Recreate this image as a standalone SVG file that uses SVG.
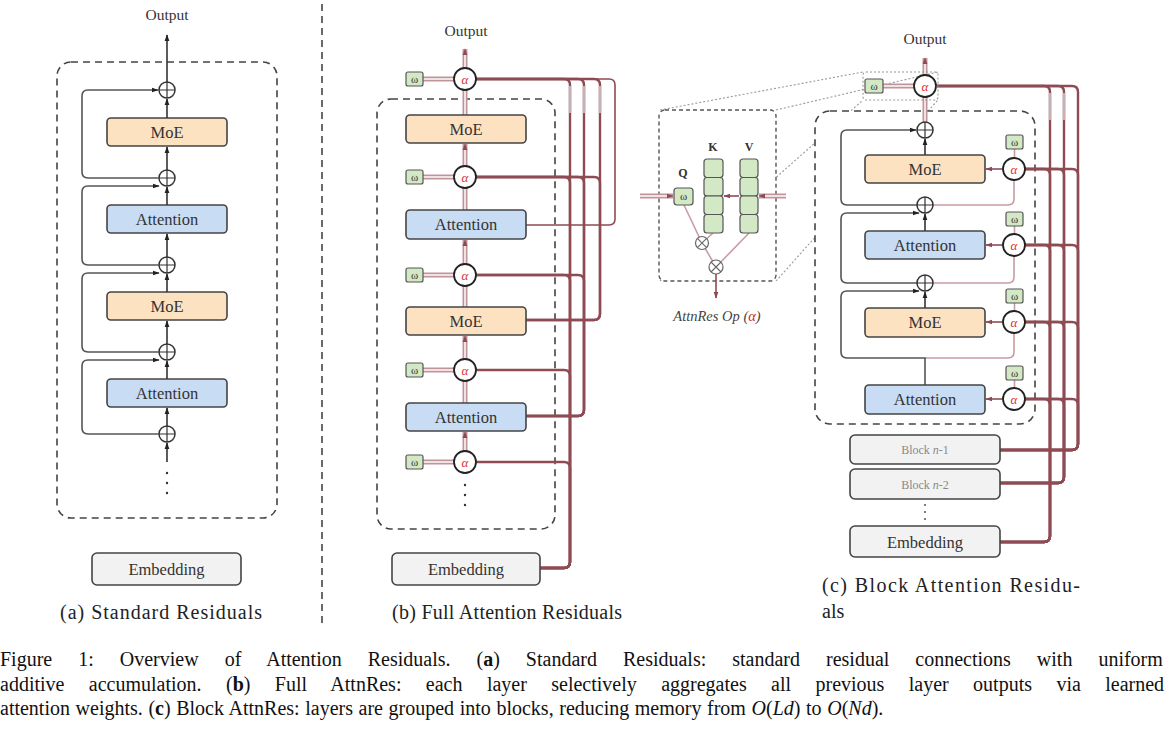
<svg xmlns="http://www.w3.org/2000/svg" width="1170" height="742" viewBox="0 0 1170 742">
<defs>
<marker id="ah" viewBox="0 0 10 10" refX="9" refY="5" markerWidth="7" markerHeight="7" markerUnits="userSpaceOnUse" orient="auto"><path d="M0,1.5 L10,5 L0,8.5 z" fill="#222"/></marker>
<marker id="am" viewBox="0 0 10 10" refX="9" refY="5" markerWidth="7" markerHeight="7" markerUnits="userSpaceOnUse" orient="auto"><path d="M0,1.5 L10,5 L0,8.5 z" fill="#8b4a52"/></marker>
</defs>
<style>
text{font-family:"Liberation Serif","Times New Roman",serif;}
.lbl{font-size:16.5px;fill:#333;text-anchor:middle;}
.out{font-size:15.5px;fill:#333;text-anchor:middle;}
.moe{fill:#fde2c2;stroke:#444;stroke-width:1.6;}
.att{fill:#c8dcf4;stroke:#444;stroke-width:1.6;}
.emb{fill:#f2f2f2;stroke:#444;stroke-width:1.6;}
.dash{fill:none;stroke:#444;stroke-width:1.6;stroke-dasharray:7 5;}
.dashw{fill:#fff;stroke:#444;stroke-width:1.6;stroke-dasharray:7 5;}
.plus{fill:#fff;stroke:#333;stroke-width:1.5;}
.cr{fill:none;stroke:#333;stroke-width:1.2;}
.blk{fill:none;stroke:#333;stroke-width:1.6;}
.loop{fill:none;stroke:#555;stroke-width:1.6;}
.alpha{fill:#fff;stroke:#222;stroke-width:1.8;}
.at{font-size:13px;fill:#e03030;text-anchor:middle;font-style:italic;}
.w{fill:#d3e8c5;stroke:#555;stroke-width:1.2;}
.wt{font-size:11px;fill:#333;text-anchor:middle;}
.dblo{fill:none;stroke:#c0949a;stroke-width:5;}
.dbli{fill:none;stroke:#efe2e3;stroke-width:2;}
.mar{fill:none;stroke:#8e4b54;stroke-width:2.4;}
.marl{fill:none;stroke:#8e4b54;stroke-width:1.6;}
.pale{fill:none;stroke:#c4b0b3;stroke-width:2.4;}
.pk{fill:none;stroke:#c99ca2;stroke-width:1.6;}
.dot{fill:none;stroke:#999;stroke-width:1.1;stroke-dasharray:2 2;}
.cap{font-size:20px;fill:#111;}
.sub{font-size:20px;fill:#222;}
.kv{font-size:12px;font-weight:bold;fill:#333;text-anchor:middle;}
.blkt{font-size:12px;fill:#888;text-anchor:middle;}
</style>

<!-- ============ Panel (a) ============ -->
<g id="a-frame"><rect class="dash" x="57" y="62" width="220" height="456" rx="14"/></g>
<g id="a-output"><text class="out" x="167" y="20">Output</text></g>
<g id="a-moe1"><rect class="moe" x="107" y="118" width="120" height="28" rx="4"/><text class="lbl" x="167" y="137.5">MoE</text></g>
<g id="a-attn1"><rect class="att" x="107" y="205" width="120" height="28" rx="4"/><text class="lbl" x="167" y="224.5">Attention</text></g>
<g id="a-moe2"><rect class="moe" x="107" y="292" width="120" height="28" rx="4"/><text class="lbl" x="167" y="311.5">MoE</text></g>
<g id="a-attn2"><rect class="att" x="107" y="379" width="120" height="28" rx="4"/><text class="lbl" x="167" y="398.5">Attention</text></g>
<g id="a-embedding"><rect class="emb" x="92" y="553" width="149" height="32" rx="5"/><text class="lbl" x="166.5" y="575">Embedding</text></g>
<g id="a-plus1" transform="translate(167,90)"><circle class="plus" r="8"/><path class="cr" d="M-8,0H8M0,-8V8"/></g>
<g id="a-plus2" transform="translate(167,178)"><circle class="plus" r="8"/><path class="cr" d="M-8,0H8M0,-8V8"/></g>
<g id="a-plus3" transform="translate(167,265)"><circle class="plus" r="8"/><path class="cr" d="M-8,0H8M0,-8V8"/></g>
<g id="a-plus4" transform="translate(167,352)"><circle class="plus" r="8"/><path class="cr" d="M-8,0H8M0,-8V8"/></g>
<g id="a-plus5" transform="translate(167,434)"><circle class="plus" r="8"/><path class="cr" d="M-8,0H8M0,-8V8"/></g>
<g id="a-dots" fill="#333"><circle cx="167" cy="473" r="1.2"/><circle cx="167" cy="483" r="1.2"/><circle cx="167" cy="493" r="1.2"/></g>
<g id="a-label"><text class="sub" x="60" y="619" textLength="202" lengthAdjust="spacing">(a) Standard Residuals</text></g>

<g id="a-connectors">
<path class="blk" d="M167,462V443" marker-end="url(#ah)"/>
<path class="blk" d="M167,426V408" marker-end="url(#ah)"/>
<path class="blk" d="M167,379V361" marker-end="url(#ah)"/>
<path class="blk" d="M167,344V321" marker-end="url(#ah)"/>
<path class="blk" d="M167,292V274" marker-end="url(#ah)"/>
<path class="blk" d="M167,257V234" marker-end="url(#ah)"/>
<path class="blk" d="M167,205V187" marker-end="url(#ah)"/>
<path class="blk" d="M167,170V147" marker-end="url(#ah)"/>
<path class="blk" d="M167,118V99" marker-end="url(#ah)"/>
<path class="blk" d="M167,82V35" marker-end="url(#ah)"/>
<path class="loop" d="M159,178H88Q82,178 82,172V96Q82,90 88,90H158" marker-end="url(#ah)"/>
<path class="loop" d="M159,265H88Q82,265 82,259V192Q82,186 88,186H159" marker-end="url(#ah)"/>
<path class="loop" d="M159,352H88Q82,352 82,346V279Q82,273 88,273H159" marker-end="url(#ah)"/>
<path class="loop" d="M159,434H88Q82,434 82,428V366Q82,360 88,360H159" marker-end="url(#ah)"/>
</g>

<g id="separator"><line class="dash" x1="322" y1="4" x2="322" y2="628"/></g>

<!-- ============ Panel (b) ============ -->
<g id="b-frame"><rect class="dash" x="377" y="99" width="178" height="430" rx="14"/></g>
<g id="b-output"><text class="out" x="466" y="36">Output</text></g>

<g id="b-connectors">
<path class="mar" d="M540,568H564Q570,568 570,562V85Q570,79 564,79H476"/>
<path class="mar" d="M540,568H564Q570,568 570,562V183Q570,177 564,177H476"/>
<path class="mar" d="M540,568H564Q570,568 570,562V281Q570,275 564,275H476"/>
<path class="mar" d="M540,568H564Q570,568 570,562V376Q570,370 564,370H476"/>
<path class="mar" d="M540,568H564Q570,568 570,562V468Q570,462 564,462H476"/>
<path class="mar" d="M526,416H578Q584,416 584,410V85Q584,79 578,79H476"/>
<path class="mar" d="M526,416H578Q584,416 584,410V183Q584,177 578,177H476"/>
<path class="mar" d="M526,416H578Q584,416 584,410V281Q584,275 578,275H476"/>
<path class="mar" d="M526,320H594Q600,320 600,314V85Q600,79 594,79H476"/>
<path class="mar" d="M526,320H594Q600,320 600,314V183Q600,177 594,177H476"/>
<path class="marl" d="M526,225H609Q615,225 615,219V85Q615,79 609,79H476" stroke="#9a6168"/>
<path class="pale" d="M570,86V113M584,86V113M600,86V113"/>
<path class="dblo" d="M465,451V432" marker-end="url(#am)"/><path class="dbli" d="M465,451V438"/>
<path class="dblo" d="M465,403V381"/><path class="dbli" d="M465,403V381"/>
<path class="dblo" d="M465,359V336" marker-end="url(#am)"/><path class="dbli" d="M465,359V342"/>
<path class="dblo" d="M465,307V286"/><path class="dbli" d="M465,307V286"/>
<path class="dblo" d="M465,264V240" marker-end="url(#am)"/><path class="dbli" d="M465,264V246"/>
<path class="dblo" d="M465,210V188"/><path class="dbli" d="M465,210V188"/>
<path class="dblo" d="M465,166V144" marker-end="url(#am)"/><path class="dbli" d="M465,166V150"/>
<path class="dblo" d="M465,115V90"/><path class="dbli" d="M465,115V90"/>
<path class="dblo" d="M465,68V49" marker-end="url(#am)"/><path class="dbli" d="M465,68V55"/>
<path class="dblo" d="M423,79H454"/><path class="dbli" d="M423,79H454"/>
<path class="dblo" d="M423,177H454"/><path class="dbli" d="M423,177H454"/>
<path class="dblo" d="M423,275H454"/><path class="dbli" d="M423,275H454"/>
<path class="dblo" d="M423,370H454"/><path class="dbli" d="M423,370H454"/>
<path class="dblo" d="M423,462H454"/><path class="dbli" d="M423,462H454"/>
</g>

<g id="b-moe1"><rect class="moe" x="406" y="115" width="120" height="28" rx="4"/><text class="lbl" x="466" y="134.5">MoE</text></g>
<g id="b-attn1"><rect class="att" x="406" y="210" width="120" height="29" rx="4"/><text class="lbl" x="466" y="230">Attention</text></g>
<g id="b-moe2"><rect class="moe" x="406" y="307" width="120" height="28" rx="4"/><text class="lbl" x="466" y="326.5">MoE</text></g>
<g id="b-attn2"><rect class="att" x="406" y="403" width="120" height="28" rx="4"/><text class="lbl" x="466" y="422.5">Attention</text></g>
<g id="b-embedding"><rect class="emb" x="392" y="553" width="148" height="32" rx="5"/><text class="lbl" x="466" y="575">Embedding</text></g>
<g id="b-alpha1"><circle class="alpha" cx="465" cy="79" r="11"/><text class="at" x="465" y="83.5">α</text></g>
<g id="b-alpha2"><circle class="alpha" cx="465" cy="177" r="11"/><text class="at" x="465" y="181.5">α</text></g>
<g id="b-alpha3"><circle class="alpha" cx="465" cy="275" r="11"/><text class="at" x="465" y="279.5">α</text></g>
<g id="b-alpha4"><circle class="alpha" cx="465" cy="370" r="11"/><text class="at" x="465" y="374.5">α</text></g>
<g id="b-alpha5"><circle class="alpha" cx="465" cy="462" r="11"/><text class="at" x="465" y="466.5">α</text></g>
<g id="b-w1"><rect class="w" x="406" y="72" width="17" height="14" rx="2"/><text class="wt" x="414.5" y="82.5">ω</text></g>
<g id="b-w2"><rect class="w" x="406" y="170" width="17" height="14" rx="2"/><text class="wt" x="414.5" y="180.5">ω</text></g>
<g id="b-w3"><rect class="w" x="406" y="268" width="17" height="14" rx="2"/><text class="wt" x="414.5" y="278.5">ω</text></g>
<g id="b-w4"><rect class="w" x="406" y="363" width="17" height="14" rx="2"/><text class="wt" x="414.5" y="373.5">ω</text></g>
<g id="b-w5"><rect class="w" x="406" y="455" width="17" height="14" rx="2"/><text class="wt" x="414.5" y="465.5">ω</text></g>
<g id="b-dots" fill="#333"><circle cx="465" cy="485" r="1.2"/><circle cx="465" cy="495" r="1.2"/><circle cx="465" cy="505" r="1.2"/></g>
<g id="b-label"><text class="sub" x="392" y="619" textLength="230" lengthAdjust="spacing">(b) Full Attention Residuals</text></g>

<!-- ============ zoom lines ============ -->
<g id="zoom-lines">
<path class="dot" d="M660,110L863,72"/>
<path class="dot" d="M776,110L938,72"/>
<path class="dot" d="M660,281L863,100"/>
<path class="dot" d="M776,281L938,100"/>
</g>

<!-- ============ Inset ============ -->
<g id="inset">
<rect x="659" y="110" width="117" height="171" rx="6" fill="#fff" stroke="#555" stroke-width="1.4" stroke-dasharray="4 3"/>
<text class="kv" x="713" y="151">K</text>
<text class="kv" x="749" y="151">V</text>
<text class="kv" x="683" y="177">Q</text>
<path class="pk" d="M684,205L702,243M713,233L702,243M702,243L716,267M749,233L716,267" stroke-width="1.1"/>
<rect class="w" x="704" y="159" width="19" height="18.5" rx="3"/>
<rect class="w" x="704" y="177.5" width="19" height="18.5" rx="3"/>
<rect class="w" x="704" y="196" width="19" height="18.5" rx="3"/>
<rect class="w" x="704" y="214.5" width="19" height="18.5" rx="3"/>
<rect class="w" x="740" y="159" width="18" height="18.5" rx="3"/>
<rect class="w" x="740" y="177.5" width="18" height="18.5" rx="3"/>
<rect class="w" x="740" y="196" width="18" height="18.5" rx="3"/>
<rect class="w" x="740" y="214.5" width="18" height="18.5" rx="3"/>
<rect class="w" x="674" y="188" width="19" height="17" rx="3"/><text class="wt" x="683.5" y="200">ω</text>
<path class="dblo" d="M640,196H673" marker-end="url(#am)" stroke-width="4"/><path class="dbli" d="M640,196H667" stroke-width="1.5"/>
<path class="dblo" d="M786,196H759" marker-end="url(#am)" stroke-width="4"/><path class="dbli" d="M786,196H765" stroke-width="1.5"/>
<path class="marl" d="M739,196H724" marker-end="url(#am)" stroke-width="1.2"/>
<g transform="translate(702,243)"><circle r="6.5" fill="#fff" stroke="#666" stroke-width="1.2"/><path d="M-4.6,-4.6L4.6,4.6M-4.6,4.6L4.6,-4.6" stroke="#666" stroke-width="1.1"/></g>
<g transform="translate(716,267)"><circle r="7" fill="#fff" stroke="#666" stroke-width="1.2"/><path d="M-5,-5L5,5M-5,5L5,-5" stroke="#666" stroke-width="1.1"/></g>
<path class="marl" d="M716,274V298" marker-end="url(#am)"/>
</g>
<g id="inset-label"><text x="717" y="321" font-size="14.5" font-style="italic" fill="#444" text-anchor="middle">AttnRes Op (<tspan fill="#d02828">α</tspan>)</text></g>

<!-- ============ Panel (c) ============ -->
<g id="c-frame"><rect class="dashw" x="815" y="111" width="220" height="313" rx="15"/></g>
<g id="c-output"><text class="out" x="925" y="44">Output</text></g>

<g id="c-connectors">
<path class="mar" d="M1000,542H1044Q1050,542 1050,536V92Q1050,86 1044,86H937"/>
<path class="mar" d="M1000,542H1044Q1050,542 1050,536V175Q1050,169 1044,169H1025"/>
<path class="mar" d="M1000,542H1044Q1050,542 1050,536V251Q1050,245 1044,245H1025"/>
<path class="mar" d="M1000,542H1044Q1050,542 1050,536V328Q1050,322 1044,322H1025"/>
<path class="mar" d="M1000,542H1044Q1050,542 1050,536V405Q1050,399 1044,399H1025"/>
<path class="mar" d="M1000,483H1058Q1064,483 1064,477V92Q1064,86 1058,86H937"/>
<path class="mar" d="M1000,483H1058Q1064,483 1064,477V175Q1064,169 1058,169H1025"/>
<path class="mar" d="M1000,483H1058Q1064,483 1064,477V251Q1064,245 1058,245H1025"/>
<path class="mar" d="M1000,483H1058Q1064,483 1064,477V328Q1064,322 1058,322H1025"/>
<path class="mar" d="M1000,483H1058Q1064,483 1064,477V405Q1064,399 1058,399H1025"/>
<path class="mar" d="M1000,450H1072Q1078,450 1078,444V92Q1078,86 1072,86H937"/>
<path class="mar" d="M1000,450H1072Q1078,450 1078,444V175Q1078,169 1072,169H1025"/>
<path class="mar" d="M1000,450H1072Q1078,450 1078,444V251Q1078,245 1072,245H1025"/>
<path class="mar" d="M1000,450H1072Q1078,450 1078,444V328Q1078,322 1072,322H1025"/>
<path class="mar" d="M1000,450H1072Q1078,450 1078,444V405Q1078,399 1072,399H1025"/>
<path class="pale" d="M1050,93V120M1064,93V120"/>
<path class="dblo" d="M925,122V97"/><path class="dbli" d="M925,122V97"/>
<path class="dblo" d="M925,75V58" marker-end="url(#am)"/><path class="dbli" d="M925,75V64"/>
<path class="dblo" d="M883,86H914"/><path class="dbli" d="M883,86H914"/>
<path class="marl" d="M1003,169H986" marker-end="url(#am)"/>
<path class="marl" d="M1003,245H986" marker-end="url(#am)"/>
<path class="marl" d="M1003,322H986" marker-end="url(#am)"/>
<path class="marl" d="M1003,399H986" marker-end="url(#am)"/>
<path class="pk" d="M1014.5,149V158M1014.5,226V234M1014.5,303V311M1014.5,380V388"/>
<path class="pk" d="M1014,180V199Q1014,205 1008,205H933"/>
<path class="pk" d="M1014,256V277Q1014,283 1008,283H933"/>
<path class="pk" d="M1014,333V352Q1014,358 1008,358H925"/>
<path class="blk" d="M925,155V139" marker-end="url(#ah)"/>
<path class="blk" d="M925,231V214" marker-end="url(#ah)"/>
<path class="blk" d="M925,308V292" marker-end="url(#ah)"/>
<path class="loop" d="M917,205H847Q841,205 841,199V136Q841,130 847,130H916" marker-end="url(#ah)"/>
<path class="loop" d="M917,283H847Q841,283 841,277V219Q841,213 847,213H919" marker-end="url(#ah)"/>
<path class="loop" d="M925,385V358H847Q841,358 841,352V297Q841,291 847,291H919" marker-end="url(#ah)"/>
</g>

<g id="c-zoombox"><rect class="dot" x="863" y="72" width="75" height="28" rx="3"/></g>
<g id="c-w0"><rect class="w" x="865" y="79" width="18" height="14" rx="2"/><text class="wt" x="874" y="89.5">ω</text></g>
<g id="c-alpha0"><circle class="alpha" cx="925" cy="86" r="11"/><text class="at" x="925" y="90.5">α</text></g>
<g id="c-plus1" transform="translate(925,130)"><circle class="plus" r="8"/><path class="cr" d="M-8,0H8M0,-8V8"/></g>
<g id="c-plus2" transform="translate(925,205)"><circle class="plus" r="8"/><path class="cr" d="M-8,0H8M0,-8V8"/></g>
<g id="c-plus3" transform="translate(925,283)"><circle class="plus" r="8"/><path class="cr" d="M-8,0H8M0,-8V8"/></g>
<g id="c-moe1"><rect class="moe" x="865" y="155" width="120" height="28" rx="4"/><text class="lbl" x="925" y="174.5">MoE</text></g>
<g id="c-attn1"><rect class="att" x="865" y="231" width="120" height="28" rx="4"/><text class="lbl" x="925" y="250.5">Attention</text></g>
<g id="c-moe2"><rect class="moe" x="865" y="308" width="120" height="29" rx="4"/><text class="lbl" x="925" y="328">MoE</text></g>
<g id="c-attn2"><rect class="att" x="865" y="385" width="120" height="29" rx="4"/><text class="lbl" x="925" y="405">Attention</text></g>
<g id="c-alpha1"><circle class="alpha" cx="1014" cy="169" r="11"/><text class="at" x="1014" y="173.5">α</text></g>
<g id="c-alpha2"><circle class="alpha" cx="1014" cy="245" r="11"/><text class="at" x="1014" y="249.5">α</text></g>
<g id="c-alpha3"><circle class="alpha" cx="1014" cy="322" r="11"/><text class="at" x="1014" y="326.5">α</text></g>
<g id="c-alpha4"><circle class="alpha" cx="1014" cy="399" r="11"/><text class="at" x="1014" y="403.5">α</text></g>
<g id="c-w1"><rect class="w" x="1006" y="135" width="17" height="14" rx="2"/><text class="wt" x="1014.5" y="145.5">ω</text></g>
<g id="c-w2"><rect class="w" x="1006" y="212" width="17" height="14" rx="2"/><text class="wt" x="1014.5" y="222.5">ω</text></g>
<g id="c-w3"><rect class="w" x="1006" y="289" width="17" height="14" rx="2"/><text class="wt" x="1014.5" y="299.5">ω</text></g>
<g id="c-w4"><rect class="w" x="1006" y="366" width="17" height="14" rx="2"/><text class="wt" x="1014.5" y="376.5">ω</text></g>
<g id="c-block-n1"><rect class="emb" x="850" y="435" width="150" height="29" rx="5"/><text class="blkt" x="925" y="454">Block <tspan font-style="italic">n</tspan>-1</text></g>
<g id="c-block-n2"><rect class="emb" x="850" y="469" width="150" height="30" rx="5"/><text class="blkt" x="925" y="488.5">Block <tspan font-style="italic">n</tspan>-2</text></g>
<g id="c-dots" fill="#555"><circle cx="925" cy="505" r="1"/><circle cx="925" cy="512" r="1"/><circle cx="925" cy="519" r="1"/></g>
<g id="c-embedding"><rect class="emb" x="850" y="526" width="150" height="31" rx="5"/><text class="lbl" x="925" y="547.5">Embedding</text></g>
<g id="c-label">
<text class="sub" x="822" y="592" textLength="258" lengthAdjust="spacing">(c) Block Attention Residu-</text>
<text class="sub" x="822" y="618">als</text>
</g>

<!-- ============ Caption ============ -->
<g id="caption">
<text class="cap" x="0" y="666" style="word-spacing:21px">Figure 1: Overview of Attention Residuals. (<tspan font-weight="bold">a</tspan>) Standard Residuals: standard residual connections with uniform</text>
<text class="cap" x="0" y="690.5" style="word-spacing:19.4px">additive accumulation. (<tspan font-weight="bold">b</tspan>) Full AttnRes: each layer selectively aggregates all previous layer outputs via learned</text>
<text class="cap" x="0" y="715" style="word-spacing:0.6px">attention weights. (<tspan font-weight="bold">c</tspan>) Block AttnRes: layers are grouped into blocks, reducing memory from <tspan font-style="italic">O</tspan>(<tspan font-style="italic">Ld</tspan>) to <tspan font-style="italic">O</tspan>(<tspan font-style="italic">Nd</tspan>).</text>
</g>
</svg>
